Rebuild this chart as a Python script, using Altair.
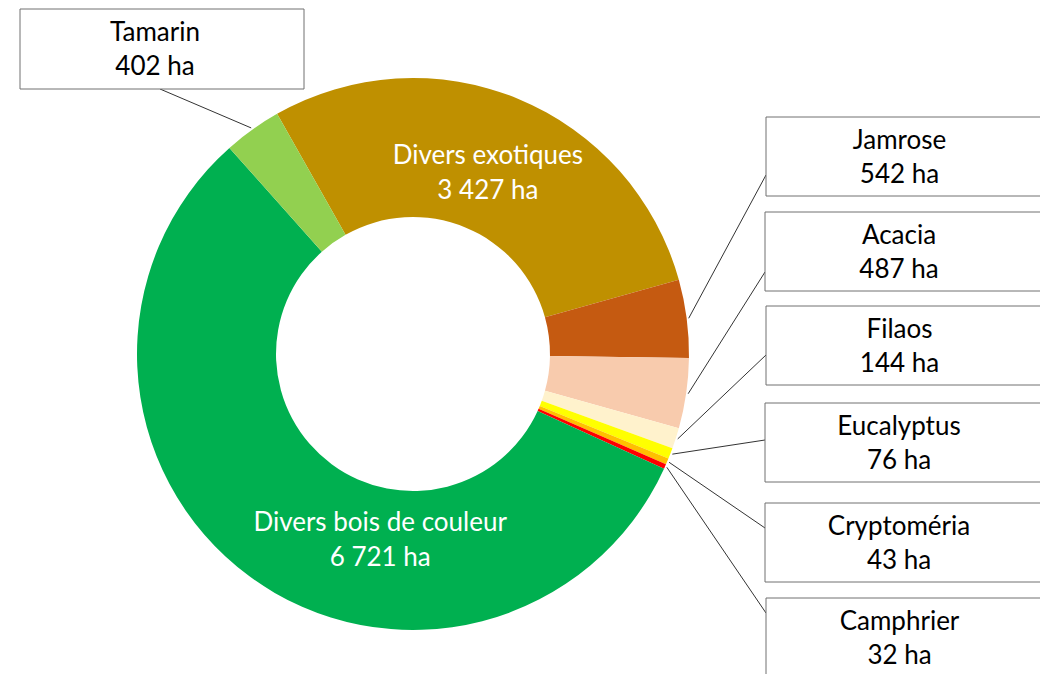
import math
import altair as alt
import pandas as pd

# ---------------- data ----------------
species = ["Divers exotiques", "Jamrose", "Acacia", "Filaos", "Eucalyptus",
           "Cryptoméria", "Camphrier", "Divers bois de couleur", "Tamarin"]
areas = [3427, 542, 487, 144, 76, 43, 32, 6721, 402]
colors = ["#BF9000", "#C55A11", "#F8CBAD", "#FFF2CC", "#FFFF00",
          "#FFC000", "#FF0000", "#00B050", "#92D050"]

# ---------------- layout ----------------
W, H = 1032, 666
CX, CY = 405, 346
R_OUT, R_IN = 276, 137
START_DEG = -29.5
FONT = "Lato"
FS = 26

# boxed labels: (x0, y0, x1, y1, attach_x, attach_y)
boxes = {
    "Tamarin": (12, 1, 296, 81, 152, 81),
    "Jamrose": (758, 109, 1039, 188, 758, 167),
    "Acacia": (757, 204, 1039, 283, 757, 264),
    "Filaos": (758, 298, 1039, 377, 758, 347),
    "Eucalyptus": (757, 395, 1039, 474, 757, 432),
    "Cryptoméria": (757, 495, 1039, 574, 757, 520),
    "Camphrier": (758, 590, 1039, 669, 758, 605),
}
TEXT_DX = -7
# inner labels: (angle override in degrees or None, radius)
inner = {
    "Divers exotiques": (None, 196),
    "Divers bois de couleur": (190, 189),
}


def fmt(v):
    return f"{v:,}".replace(",", " ") + " ha"


total = sum(areas)
mid_deg = {}
acc = 0
for s, v in zip(species, areas):
    a0 = START_DEG + acc / total * 360
    acc += v
    a1 = START_DEG + acc / total * 360
    mid_deg[s] = (a0 + a1) / 2


def polar(deg, r):
    t = math.radians(deg)
    return CX + r * math.sin(t), CY - r * math.cos(t)


df = pd.DataFrame({"species": species, "area": areas, "idx": list(range(len(species)))})

rect_rows, rule_rows, text_rows = [], [], []
for s, (x0, y0, x1, y1, ax, ay) in boxes.items():
    v = areas[species.index(s)]
    rect_rows.append({"x": x0, "x2": x1, "y": y0, "y2": y1})
    px, py = polar(mid_deg[s], R_OUT + 2)
    rule_rows.append({"x": ax, "y": ay, "x2": px, "y2": py})
    cx = (x0 + x1) / 2 + TEXT_DX
    text_rows.append({"x": cx, "y": y0 + 24, "t": s, "c": "black"})
    text_rows.append({"x": cx, "y": y0 + 58, "t": fmt(v), "c": "black"})
for s, (ang, r) in inner.items():
    v = areas[species.index(s)]
    a = mid_deg[s] if ang is None else ang
    px, py = polar(a, r)
    text_rows.append({"x": px, "y": py - 17, "t": s, "c": "white"})
    text_rows.append({"x": px, "y": py + 18, "t": fmt(v), "c": "white"})

xs = alt.Scale(domain=[0, W], nice=False, zero=False)
ys = alt.Scale(domain=[0, H], nice=False, zero=False, reverse=True)

start = math.radians(START_DEG)
donut = alt.Chart(df).mark_arc(innerRadius=R_IN, outerRadius=R_OUT).encode(
    theta=alt.Theta("area:Q", stack=True,
                    scale=alt.Scale(range=[start, start + 2 * math.pi])),
    order=alt.Order("idx:Q"),
    color=alt.Color("species:N", scale=alt.Scale(domain=species, range=colors), legend=None),
    x=alt.value(CX),
    y=alt.value(CY),
)

rules = alt.Chart(pd.DataFrame(rule_rows)).mark_rule(color="#333333", strokeWidth=1).encode(
    x=alt.X("x:Q", scale=xs, axis=None),
    y=alt.Y("y:Q", scale=ys, axis=None),
    x2="x2:Q", y2="y2:Q",
)

rects = alt.Chart(pd.DataFrame(rect_rows)).mark_rect(
    fill="white", stroke="#707070", strokeWidth=1).encode(
    x=alt.X("x:Q", scale=xs, axis=None),
    y=alt.Y("y:Q", scale=ys, axis=None),
    x2="x2:Q", y2="y2:Q",
)

texts = alt.Chart(pd.DataFrame(text_rows)).mark_text(
    font=FONT, fontSize=FS, align="center", baseline="middle").encode(
    x=alt.X("x:Q", scale=xs, axis=None),
    y=alt.Y("y:Q", scale=ys, axis=None),
    text="t:N",
    color=alt.Color("c:N", scale=None),
)

chart = alt.layer(donut, rules, rects, texts).properties(
    width=W, height=H, padding=0, autosize="none"
).configure_view(stroke=None)

chart.save("out.html", embed_options={"renderer": "svg", "actions": False})
